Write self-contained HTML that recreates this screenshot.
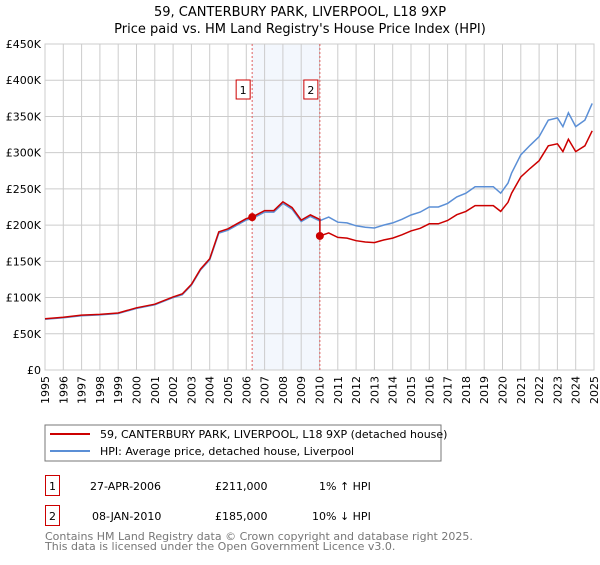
<!DOCTYPE html>
<html><head><meta charset="utf-8"><style>
body{margin:0;background:#fff;}
svg text{font-family:"DejaVu Sans","Liberation Sans",sans-serif;}
</style></head><body>
<svg width="600" height="560" xmlns="http://www.w3.org/2000/svg">
<text x="300" y="16" text-anchor="middle" font-size="13">59, CANTERBURY PARK, LIVERPOOL, L18 9XP</text>
<text x="300" y="33" text-anchor="middle" font-size="13">Price paid vs. HM Land Registry's House Price Index (HPI)</text>
<g id="plot"></g>
<rect x="45" y="425" width="396" height="36" fill="#fff" stroke="#777"/>
<line x1="50" y1="434" x2="90" y2="434" stroke="#cc0000" stroke-width="2"/>
<text x="100" y="438" font-size="11">59, CANTERBURY PARK, LIVERPOOL, L18 9XP (detached house)</text>
<line x1="50" y1="451" x2="90" y2="451" stroke="#5b8fd6" stroke-width="2"/>
<text x="100" y="455" font-size="11">HPI: Average price, detached house, Liverpool</text>
<g font-size="11">
<rect x="45.5" y="475.5" width="14" height="20" fill="none" stroke="#cc0000"/>
<text x="52.5" y="490" text-anchor="middle">1</text>
<text x="90" y="490">27-APR-2006</text>
<text x="215" y="490">£211,000</text>
<text x="319" y="490">1% ↑ HPI</text>
<rect x="45.5" y="505.5" width="14" height="20" fill="none" stroke="#cc0000"/>
<text x="52.5" y="520" text-anchor="middle">2</text>
<text x="92" y="520">08-JAN-2010</text>
<text x="215" y="520">£185,000</text>
<text x="312" y="520">10% ↓ HPI</text>
</g>
<text x="45" y="540" font-size="11" fill="#777">Contains HM Land Registry data © Crown copyright and database right 2025.</text>
<text x="45" y="550" font-size="11" fill="#777">This data is licensed under the Open Government Licence v3.0.</text>
</svg>
<script>
const yTicks=[0,50000,100000,150000,200000,250000,300000,350000,400000,450000];
const yTickLabels=["£0","£50K","£100K","£150K","£200K","£250K","£300K","£350K","£400K","£450K"];
const xYears=[1995,1996,1997,1998,1999,2000,2001,2002,2003,2004,2005,2006,2007,2008,2009,2010,2011,2012,2013,2014,2015,2016,2017,2018,2019,2020,2021,2022,2023,2024,2025];
const hpiDates=[1995,1996,1997,1998,1999,2000,2001,2002,2002.5,2003,2003.5,2004,2004.5,2005,2005.5,2006,2006.32,2007,2007.5,2008,2008.5,2009,2009.5,2010,2010.5,2011,2011.5,2012,2012.5,2013,2013.5,2014,2014.5,2015,2015.5,2016,2016.5,2017,2017.5,2018,2018.5,2019,2019.5,2019.9,2020.3,2020.5,2021,2021.5,2022,2022.5,2023,2023.3,2023.6,2024,2024.5,2024.9];
const hpiValues=[70000,72000,75000,76000,78000,85000,90000,100000,104000,117000,138000,152000,189000,193000,200000,207000,209000,218000,218000,230000,222000,205000,212000,206000,211000,204000,203000,199000,197000,196000,200000,203000,208000,214000,218000,225000,225000,230000,239000,244000,253000,253000,253000,244000,258000,272000,297000,310000,322000,345000,348000,336000,355000,336000,345000,368000];
const saleDates=[2006.32,2010.02];
const salePrices=[211000,185000];
const saleLabels=["1","2"];
const NS="http://www.w3.org/2000/svg";
const X0=45,X1=594,Y0=370,Y1=44;
const xs=d=>X0+(d-1995)/(2025-1995)*(X1-X0);
const ys=v=>Y0-v/450000*(Y0-Y1);
const g=document.getElementById('plot');
function mk(t,a){const e=document.createElementNS(NS,t);for(const k in a)e.setAttribute(k,a[k]);g.appendChild(e);return e;}
function hpiAt(d){for(let i=1;i<hpiDates.length;i++){if(d<=hpiDates[i]){const t=(d-hpiDates[i-1])/(hpiDates[i]-hpiDates[i-1]);return hpiValues[i-1]+t*(hpiValues[i]-hpiValues[i-1]);}}return hpiValues[hpiValues.length-1];}
let sh=mk('rect',{x:xs(saleDates[0]),y:Y1,width:xs(saleDates[1])-xs(saleDates[0]),height:Y0-Y1,fill:'#eef3fc',opacity:0.7});


yTicks.forEach((v,i)=>{
 let l=mk('line',{x1:X0,x2:X1,y1:ys(v),y2:ys(v),stroke:'#ccc'});
 
 
 let t=mk('text',{x:X0-4,y:ys(v)+4,'text-anchor':'end','font-size':'11'});
 t.textContent=yTickLabels[i];
 
 
});
xYears.forEach(y=>{
 let l=mk('line',{x1:xs(y),x2:xs(y),y1:Y1,y2:Y0,stroke:'#ccc'});
 
 
 const tx=xs(y)+4, ty=Y0+6;
 let t=mk('text',{x:tx,y:ty,'text-anchor':'end','font-size':'11',transform:'rotate(-90 '+tx+' '+ty+')'});
 t.textContent=y;
 
 
});
let fr=mk('rect',{x:X0,y:Y1,width:X1-X0,height:Y0-Y1,fill:'none',stroke:'#ccc'});


saleDates.forEach((d,i)=>{
 let l=mk('line',{x1:xs(d),x2:xs(d),y1:Y1,y2:Y0,stroke:'#e06060','stroke-dasharray':'2,2'});
 
 
 let r=mk('rect',{x:xs(d)-16,y:80,width:14,height:19,fill:'#fff',stroke:'#cc0000'});
 
 
 let t=mk('text',{x:xs(d)-9,y:94,'text-anchor':'middle','font-size':'11'});
 t.textContent=saleLabels[i];
 
 
});
let hp=hpiDates.map((d,i)=>xs(d).toFixed(1)+','+ys(hpiValues[i]).toFixed(1)).join(' ');
let hl=mk('polyline',{points:hp,fill:'none',stroke:'#5b8fd6','stroke-width':1.5});


let pts=[];
hpiDates.forEach((d,i)=>{
 let k=d>=saleDates[1]?1:0;
 let f=salePrices[k]/hpiAt(saleDates[k]);
 if(d>=saleDates[1]&&pts.length&&hpiDates[i-1]<saleDates[1]){
   pts.push([saleDates[1],hpiAt(saleDates[1])*salePrices[0]/hpiAt(saleDates[0])]);
   pts.push([saleDates[1],salePrices[1]]);
 }
 pts.push([d,hpiValues[i]*f]);
});
let pl=mk('polyline',{points:pts.map(p=>xs(p[0]).toFixed(1)+','+ys(p[1]).toFixed(1)).join(' '),fill:'none',stroke:'#cc0000','stroke-width':1.5});


saleDates.forEach((d,i)=>{
 let c=mk('circle',{cx:xs(d),cy:ys(salePrices[i]),r:4,fill:'#cc0000'});
 
 
});
</script>
</body></html>
